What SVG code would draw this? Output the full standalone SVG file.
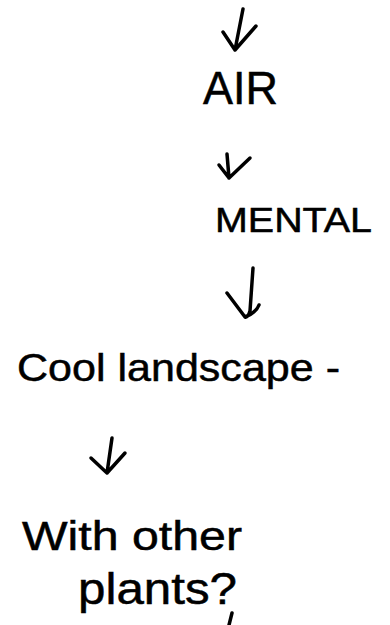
<svg xmlns="http://www.w3.org/2000/svg" width="390" height="625" viewBox="0 0 390 625">
<style>
.t{font-family:"Liberation Sans","DejaVu Sans",sans-serif;fill:#000;stroke:#000;stroke-width:0.5;}
.a{fill:none;stroke:#000;stroke-width:3.5;stroke-linecap:round;stroke-linejoin:round;}
</style>
<rect width="390" height="625" fill="#fff"/>
<g id="connectors">
<path class="a" d="M243,9 L235,50 M223,32 L235,50 L256,26"/>
<path class="a" d="M227,154 L229,178 M219,165 L229,178 L250,158"/>
<path class="a" d="M253,268 L250,311 Q248,318 245,317 L227,293 M245,317 Q256,313 259,305"/>
<path class="a" d="M112,438 L107,473 M91,458 L107,473 L125,453"/>
<path class="a" d="M232,613 L229,625"/>
</g>
<g id="air"><text class="t" x="203" y="104" font-size="46" textLength="75" lengthAdjust="spacingAndGlyphs">AIR</text></g>
<g id="mental"><text class="t" x="215" y="232" font-size="35" textLength="157" lengthAdjust="spacingAndGlyphs">MENTAL</text></g>
<g id="cool-landscape"><text class="t" x="17" y="381" font-size="39" textLength="323" lengthAdjust="spacingAndGlyphs">Cool landscape -</text></g>
<g id="with-other-plants">
<text class="t" x="22" y="550" font-size="40" textLength="220" lengthAdjust="spacingAndGlyphs">With other</text>
<text class="t" x="78" y="604" font-size="44" textLength="159" lengthAdjust="spacingAndGlyphs">plants?</text>
</g>
</svg>
